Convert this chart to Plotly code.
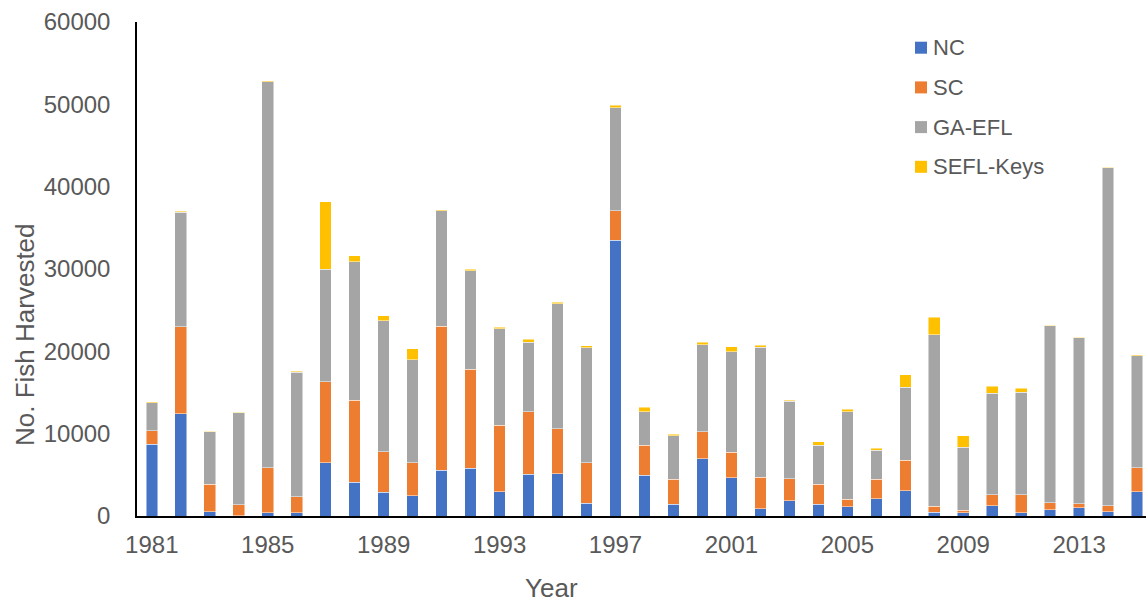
import plotly.graph_objects as go

# Annual harvest by region, 1981-2015
years = list(range(1981, 2016))
nc = [8700, 12400, 500, 50, 370, 370, 6450, 4100, 2870, 2460,
      5550, 5830, 2920, 5050, 5130, 1520, 33470, 4970, 1400, 6980,
      4640, 860, 1850, 1440, 1110, 2090, 3040, 450, 370, 1230,
      370, 740, 1000, 520, 2950]
sc = [1650, 10600, 3350, 1300, 5500, 1970, 9850, 9950, 4930, 4030,
      17500, 12000, 8130, 7640, 5470, 4930, 3610, 3650, 3040, 3250,
      3080, 3860, 2670, 2420, 900, 2350, 3740, 740, 330, 1360,
      2220, 860, 460, 730, 2910]
ga_efl = [3400, 13900, 6400, 11200, 46900, 15100, 13650, 16850, 15900, 12500,
          14050, 11950, 11700, 8420, 15150, 14000, 12490, 4030, 5290, 10590,
          12240, 15770, 9400, 4760, 10640, 3530, 8870, 20820, 7640, 12320,
          12440, 21480, 20200, 41050, 13600]
sefl_keys = [100, 100, 60, 80, 100, 120, 8200, 700, 600, 1350,
             100, 170, 170, 330, 200, 250, 330, 530, 170, 280,
             610, 250, 130, 370, 290, 280, 1480, 2140, 1390, 820,
             490, 80, 80, 80, 120]

series_names = ["NC", "SC", "GA-EFL", "SEFL-Keys"]
series_values = [nc, sc, ga_efl, sefl_keys]
colors = ["#4472C4", "#ED7D31", "#A5A5A5", "#FFC000"]
x_tick_years = [1981, 1985, 1989, 1993, 1997, 2001, 2005, 2009, 2013]
y_ticks = [0, 10000, 20000, 30000, 40000, 50000, 60000]

W, H = 1146, 603
ML, MR, MT, MB = 137, 0, 22, 87
PW, PH = W - ML - MR, H - MT - MB


def px_x(px):
    return (px - ML) / PW


def px_y(py):
    return (H - MB - py) / PH


TEXT = "#595959"
FONT = "Liberation Sans, Arial, sans-serif"

fig = go.Figure()
for name, vals, col in zip(series_names, series_values, colors):
    fig.add_trace(go.Bar(
        x=years, y=vals, name=name,
        marker=dict(color=col, line=dict(color="rgba(255,255,255,0.8)", width=0.6)),
        showlegend=False,
    ))

# legend drawn as small squares with labels at the upper right
shapes = []
annotations = []
for i, (name, col) in enumerate(zip(series_names, colors)):
    cy = 47.7 + i * 39.7
    shapes.append(dict(
        type="rect", xref="paper", yref="paper",
        x0=px_x(915), x1=px_x(927), y0=px_y(cy + 6), y1=px_y(cy - 6),
        fillcolor=col, line=dict(width=0),
    ))
    annotations.append(dict(
        x=px_x(931), y=px_y(cy), xref="paper", yref="paper",
        text=name, showarrow=False, xanchor="left", yanchor="middle",
        font=dict(family=FONT, size=22, color=TEXT),
    ))

annotations.append(dict(
    x=px_x(551), y=px_y(588), xref="paper", yref="paper",
    text="Year", showarrow=False, xanchor="center", yanchor="middle",
    font=dict(family=FONT, size=26, color=TEXT),
))
annotations.append(dict(
    x=px_x(25), y=px_y(335), xref="paper", yref="paper",
    text="No. Fish Harvested", showarrow=False, textangle=-90,
    xanchor="center", yanchor="middle",
    font=dict(family=FONT, size=26, color=TEXT),
))

fig.update_layout(
    barmode="stack",
    bargap=0.6,
    width=W, height=H,
    margin=dict(l=ML, r=MR, t=MT, b=MB, pad=0),
    paper_bgcolor="white",
    plot_bgcolor="white",
    shapes=shapes,
    annotations=annotations,
    font=dict(family=FONT, color=TEXT),
)
fig.update_xaxes(
    range=[1980.489, 2015.306],
    tickmode="array", tickvals=x_tick_years,
    ticktext=[str(y) for y in x_tick_years],
    tickfont=dict(family=FONT, size=24, color=TEXT),
    showgrid=False, zeroline=False,
    showline=True, linecolor="black", linewidth=1.5,
    ticks="outside", ticklen=6, tickcolor="rgba(0,0,0,0)",
)
fig.update_yaxes(
    range=[0, 60000],
    tickmode="array", tickvals=y_ticks,
    ticktext=[str(v) for v in y_ticks],
    tickfont=dict(family=FONT, size=24, color=TEXT),
    showgrid=False, zeroline=False,
    showline=True, linecolor="black", linewidth=1.5,
    ticks="outside", ticklen=20, tickcolor="rgba(0,0,0,0)",
)

fig.write_html("out.html")
